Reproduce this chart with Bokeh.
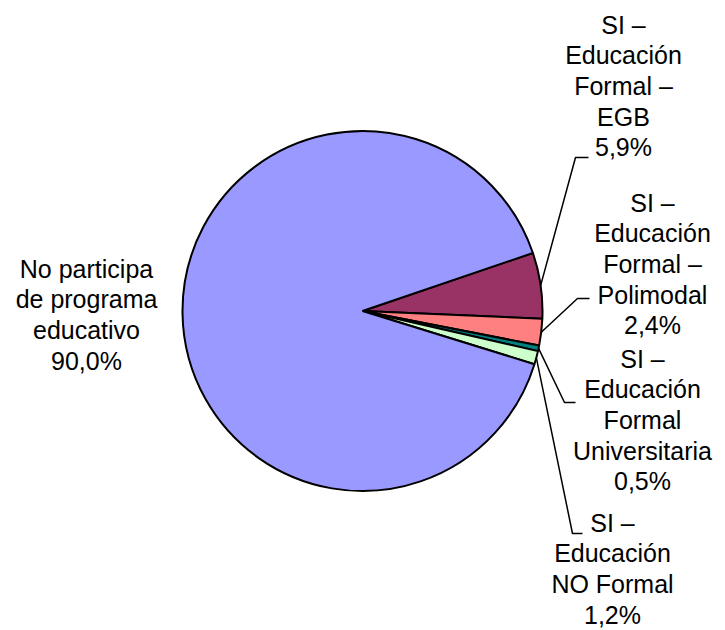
import math
from bokeh.plotting import figure
from bokeh.models import Range1d, ColumnDataSource
from bokeh.core.properties import value
from bokeh.embed import file_html
from bokeh.resources import INLINE

# ---- data ----
categories = [
    "SI –\nEducación\nFormal –\nEGB",
    "SI –\nEducación\nFormal –\nPolimodal",
    "SI –\nEducación\nFormal\nUniversitaria",
    "SI –\nEducación\nNO Formal",
    "No participa\nde programa\neducativo",
]
values = [5.9, 2.4, 0.5, 1.2, 90.0]
colors = ["#993366", "#FF8080", "#008080", "#CCFFCC", "#9999FF"]

# ---- layout (page pixel coordinates) ----
PAGE_H = 630
PW, PH = 725, 630
X0, Y0 = 0, 0          # page position of the canvas
CX, CY, R = 362, 310.5, 180
START = 18.8          # degrees, first slice begins here and runs clockwise
LINE_H = 30.7
TEXT_DY = -10
FONT = "Liberation Sans"
FSIZE = "25px"
label_anchor = [(623, 34), (652, 212), (642, 368), (612, 532), (86, 278)]
leader_elbow = [(575, 157), (577, 298), (564, 402), (572, 533), None]
leader_end = [(588, 157), (589, 298), (575, 402), (582, 533), None]


def Y(y):
    return PAGE_H - y


p = figure(width=PW, height=PH, output_backend="svg", toolbar_location=None,
           x_range=Range1d(X0, X0 + PW), y_range=Range1d(PAGE_H - Y0 - PH, PAGE_H - Y0),
           x_axis_type=None, y_axis_type=None, min_border=0)
p.grid.visible = False
p.outline_line_color = None
p.background_fill_color = "white"
p.border_fill_color = "white"

total = sum(values)
starts, ends, mids = [], [], []
cum = 0.0
for v in values:
    e = START - cum / total * 360.0
    s = START - (cum + v) / total * 360.0
    starts.append(s)
    ends.append(e)
    mids.append((s + e) / 2.0)
    cum += v

src = ColumnDataSource(dict(x=[CX] * len(values), y=[Y(CY)] * len(values),
                            start=starts, end=ends, color=colors))
p.wedge(x="x", y="y", radius=R, start_angle="start", end_angle="end",
        start_angle_units="deg", end_angle_units="deg", direction="anticlock",
        fill_color="color", line_color="black", line_width=2, source=src)

# leader lines
xs, ys = [], []
for i, m in enumerate(mids):
    if leader_elbow[i] is None:
        continue
    a = math.radians(m)
    sx = CX + R * math.cos(a)
    sy = Y(CY) + R * math.sin(a)
    ex, ey = leader_elbow[i]
    fx, fy = leader_end[i]
    xs.append([sx, ex, fx])
    ys.append([sy, Y(ey), Y(fy)])
p.multi_line(xs=xs, ys=ys, line_color="black", line_width=1.5)

# labels
tx, ty, tt = [], [], []
for i, (cat, v) in enumerate(zip(categories, values)):
    lines = cat.split("\n") + [f"{v:.1f}".replace(".", ",") + "%"]
    ax, ay = label_anchor[i]
    for k, ln in enumerate(lines):
        tx.append(ax)
        ty.append(Y(ay + TEXT_DY + k * LINE_H))
        tt.append(ln)
p.text(x=tx, y=ty, text=tt, text_align="center", text_baseline="alphabetic",
       text_font=value(FONT), text_font_size=FSIZE, text_color="black")

open("out.html", "w").write(file_html(p, INLINE))
